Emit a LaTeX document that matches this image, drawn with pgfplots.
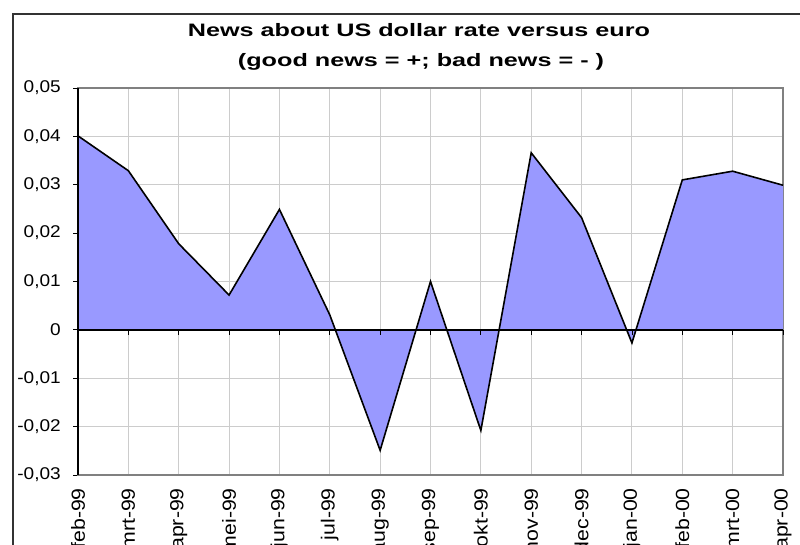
\documentclass[border=0pt]{standalone}
\usepackage{fontspec}
\setmainfont{Liberation Sans}
\newfontfamily\titlefont[FakeStretch=1.4]{Liberation Sans}
\newfontfamily\tickfont[FakeStretch=1.12]{Liberation Sans}
\usepackage{pgfplots}
\pgfplotsset{compat=1.18}
\definecolor{areafill}{HTML}{9999FF}
\definecolor{gridc}{HTML}{CCCCCC}
\definecolor{boxc}{HTML}{808080}
\begin{document}
\begin{tikzpicture}
\begin{axis}[
  at={(78pt,70pt)}, anchor=south west,
  scale only axis, width=705pt, height=387pt,
  xmin=0, xmax=14, ymin=-0.03, ymax=0.05,
  scaled y ticks=false,
  xtick={0,1,2,3,4,5,6,7,8,9,10,11,12,13,14},
  xticklabels={feb-99,mrt-99,apr-99,mei-99,jun-99,jul-99,aug-99,sep-99,okt-99,nov-99,dec-99,jan-00,feb-00,mrt-00,apr-00},
  xticklabel style={inner sep=0pt, yshift=-8pt, rotate=90, anchor=east, font=\tickfont\fontsize{19}{19}\selectfont},
  ytick={-0.03,-0.02,-0.01,0,0.01,0.02,0.03,0.04,0.05},
  yticklabels={{-0,03},{-0,02},{-0,01},{0},{0,01},{0,02},{0,03},{0,04},{0,05}},
  yticklabel style={inner sep=0pt, anchor=east, xshift=-12pt, font=\tickfont\fontsize{17}{17}\selectfont},
  grid=major,
  major grid style={gridc, line width=1pt},
  axis line style={boxc, line width=1.2pt},
  tick align=outside,
  xtick pos=bottom, ytick pos=left,
  xtick style={draw=none},
  ytick style={black, line width=0.8pt},
  major tick length=5pt,
  clip=false,
]
\addplot[fill=areafill, draw=none] coordinates {
(0,0.0401) (1,0.0329) (2,0.0178) (3,0.0072) (4,0.0249) (5,0.0031) (6,-0.0249) (7,0.0100)
(8,-0.0208) (9,0.0366) (10,0.0232) (11,-0.0027) (12,0.0310) (13,0.0328) (14,0.0299)
} \closedcycle;
\addplot[black, line width=1.6pt, line join=miter] coordinates {
(0,0.0401) (1,0.0329) (2,0.0178) (3,0.0072) (4,0.0249) (5,0.0031) (6,-0.0249) (7,0.0100)
(8,-0.0208) (9,0.0366) (10,0.0232) (11,-0.0027) (12,0.0310) (13,0.0328) (14,0.0299)
};
\draw[black, line width=2pt] (axis cs:0,0) -- (axis cs:14,0);
\pgfplotsinvokeforeach{0,...,14}{\draw[black, line width=0.8pt] (axis cs:#1,0) -- ([yshift=-5pt]axis cs:#1,0);}
\draw[black, line width=1.2pt] (rel axis cs:0,0) -- (rel axis cs:0,1);
\end{axis}
\node[anchor=base, font=\titlefont\bfseries\fontsize{18}{18}\selectfont] at (419pt,508pt) {News about US dollar rate versus euro};
\node[anchor=base, font=\titlefont\bfseries\fontsize{18}{18}\selectfont] at (421pt,478pt) {(good news = +; bad news = - )};
\draw[black!80, line width=1.3pt] (13pt,-20pt) -- (13pt,531pt) -- (820pt,531pt);
\pgfresetboundingbox
\useasboundingbox (0pt,0pt) rectangle (800pt,545pt);
\end{tikzpicture}
\end{document}
